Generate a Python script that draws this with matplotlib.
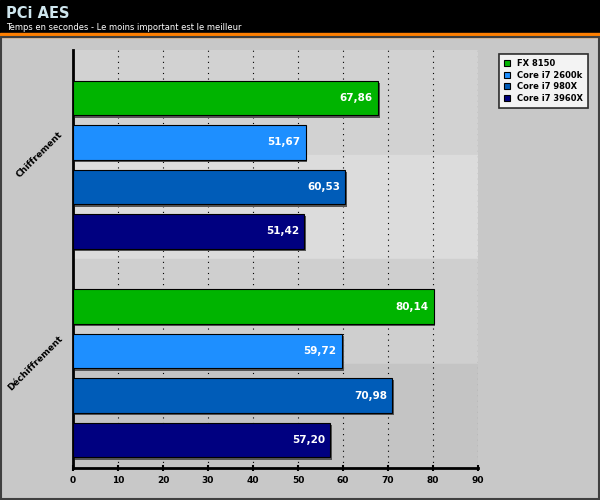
import matplotlib
matplotlib.use("Agg")
import matplotlib.pyplot as plt
from matplotlib.patches import Rectangle

groups = ["Chiffrement", "Déchiffrement"]
series = ["FX 8150", "Core i7 2600k", "Core i7 980X", "Core i7 3960X"]
chiffrement = [67.86, 51.67, 60.53, 51.42]
dechiffrement = [80.14, 59.72, 70.98, 57.20]
colors = ["#00b400", "#1e8fff", "#005cb8", "#000080"]
xticks = [0, 10, 20, 30, 40, 50, 60, 70, 80, 90]

fig = plt.figure(figsize=(6, 5), dpi=100)
fig.patch.set_facecolor("#c8c8c8")
fig.add_artist(Rectangle((0, 1 - 33/500), 1, 33/500, transform=fig.transFigure, color="black"))
fig.add_artist(Rectangle((0, 1 - 37/500), 1, 4/500, transform=fig.transFigure, color="#ff7f00"))
fig.add_artist(Rectangle((0.002, 0.002), 0.996, 1 - 37/500 - 0.002, transform=fig.transFigure,
                         fill=False, edgecolor="#404040", lw=1.5))
fig.text(6/600, 1 - 14/500, "PCi AES", color="#cfe6ee", fontsize=10.5, fontweight="bold", va="center")
fig.text(6/600, 1 - 27/500, "Temps en secondes - Le moins important est le meilleur", color="white",
         fontsize=6, va="center")

ax = fig.add_axes([73/600, 1 - 468/500, 405/600, 418/500])
ax.set_facecolor("#c8c8c8")
G = 4.69
YMAX = 9.4
bands = [(0, 2.35, "#d2d2d2"), (2.35, 4.69, "#dcdcdc"), (4.69, 7.05, "#cfcfcf"), (7.05, YMAX, "#c4c4c4")]
for a, b, c in bands:
    ax.axhspan(a, b, color=c, zorder=0)
for x in xticks[1:]:
    ax.axvline(x, color="black", ls=(0, (1, 4)), lw=0.8, zorder=1)

for g, vals in enumerate([chiffrement, dechiffrement]):
    for i, v in enumerate(vals):
        y = g * G + 1.08 + i
        ax.barh(y + 0.05, v, height=0.78, left=0.4, color="#555555", zorder=2)
        ax.barh(y, v, height=0.78, color=colors[i], edgecolor="black", lw=0.8, zorder=3,
                label=series[i] if g == 0 else None)
        ax.text(v - 1.2, y, f"{v:.2f}".replace(".", ","), color="white", fontsize=7.5,
                fontweight="bold", ha="right", va="center", zorder=4)

ax.set_xlim(0, 90)
ax.set_ylim(YMAX, 0)
ax.set_xticks(xticks)
ax.set_xticklabels([str(t) for t in xticks], fontsize=6.5, fontweight="bold")
ax.set_yticks([G / 2, G * 1.5])
ax.set_yticklabels(groups, rotation=45, fontsize=6.5, fontweight="bold", ha="right", va="center")
ax.tick_params(axis="y", length=0, pad=6)
ax.tick_params(axis="x", length=4, width=1.5, direction="inout")
for s in ["top", "right"]:
    ax.spines[s].set_visible(False)
ax.spines["left"].set_linewidth(2)
ax.spines["bottom"].set_linewidth(2)

leg = fig.legend(loc="upper left", bbox_to_anchor=(495/600, 1 - 50/500), fontsize=6,
                 frameon=True, fancybox=False, edgecolor="black", handlelength=0.7, handleheight=0.7,
                 borderpad=0.6, labelspacing=0.3, handletextpad=0.8)
leg.get_frame().set_linewidth(1.2)
for t in leg.get_texts():
    t.set_fontweight("bold")

fig.savefig("out.png", dpi=100, facecolor=fig.get_facecolor())
